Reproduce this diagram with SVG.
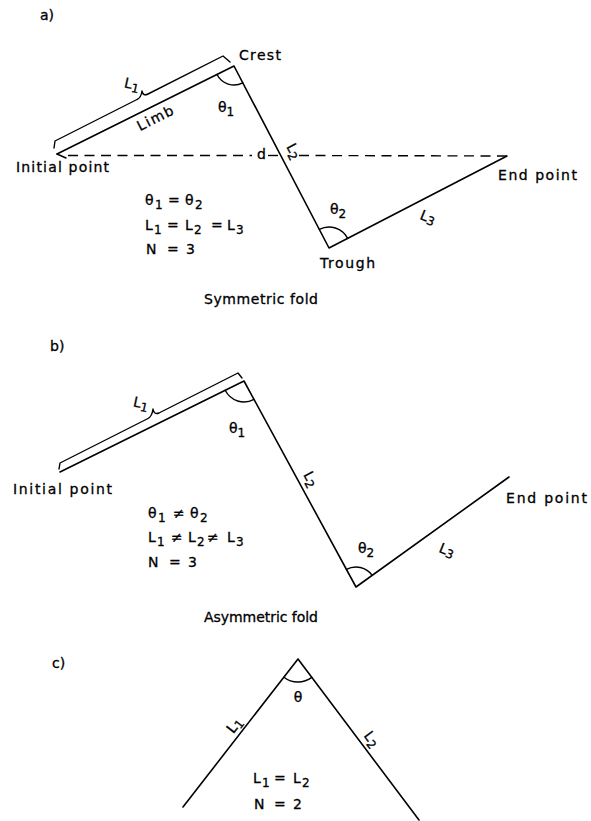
<svg xmlns="http://www.w3.org/2000/svg" width="591" height="821" viewBox="0 0 591 821">
<style>
  .ln{fill:none;stroke:#000;stroke-width:1.6;stroke-linecap:round;stroke-linejoin:round}
  .thin{fill:none;stroke:#000;stroke-width:1.4;stroke-linecap:round;stroke-linejoin:round}
  .dash{fill:none;stroke:#000;stroke-width:1.4;stroke-dasharray:10 6.5}
  text{font-family:"DejaVu Sans","Liberation Sans",sans-serif;font-size:14px;fill:#000;stroke:#000;stroke-width:0.3}
  .s{font-size:12px}
</style>
<rect width="591" height="821" fill="#fff"/>

<g id="panel-a">
  <text x="40" y="20">a)</text>
  <g id="a-lines">
    <path class="ln" d="M57,154 L234,66 L329,248 L507,156"/>
    <path class="thin" d="M57,154 L66,158"/>
    <path class="dash" d="M68,155.5 L252,155.5"/>
    <path class="dash" d="M268,155.5 L281,155.5"/>
    <path class="dash" d="M299,155.5 L507,156"/>
    <path class="thin" d="M54,148 L55,141 L137,99.5 Q141,98 142,91 Q143,96.5 148,94 L223,56 L230,62"/>
    <path class="thin" d="M217,74.5 A19,19 0 0 0 242.8,82.8"/>
    <path class="thin" d="M319.3,229.4 A21,21 0 0 1 347.7,238.4"/>
  </g>
  <text x="239" y="60" textLength="42" lengthAdjust="spacing">Crest</text>
  <text x="16" y="172" textLength="93" lengthAdjust="spacing">Initial point</text>
  <text x="498" y="180" textLength="79" lengthAdjust="spacing">End point</text>
  <text x="320" y="268" textLength="55" lengthAdjust="spacing">Trough</text>
  <text x="204" y="304" textLength="114" lengthAdjust="spacing">Symmetric fold</text>
  <text transform="translate(155,118) rotate(-27)" text-anchor="middle" y="5" textLength="39" lengthAdjust="spacing">Limb</text>
  <text x="257" y="159">d</text>
  <text transform="translate(132,84) rotate(12)" text-anchor="middle" y="5">L<tspan class="s" dy="3">1</tspan></text>
  <text transform="translate(294,151) rotate(62)" text-anchor="middle" y="5">L<tspan class="s" dy="3">2</tspan></text>
  <text transform="translate(428,217) rotate(22)" text-anchor="middle" y="5">L<tspan class="s" dy="2">3</tspan></text>
  <text x="218" y="112">θ<tspan class="s" dy="4">1</tspan></text>
  <text x="330" y="214">θ<tspan class="s" dy="4">2</tspan></text>
  <g id="a-eq">
    <text y="205"><tspan x="145">θ</tspan><tspan class="s" x="155" y="209">1</tspan><tspan x="168" y="205">=</tspan><tspan x="185">θ</tspan><tspan class="s" x="195" y="209">2</tspan></text>
    <text y="230"><tspan x="145">L</tspan><tspan class="s" x="154" y="234">1</tspan><tspan x="167" y="230">=</tspan><tspan x="185">L</tspan><tspan class="s" x="194" y="234">2</tspan><tspan x="211" y="230">=</tspan><tspan x="227">L</tspan><tspan class="s" x="236" y="234">3</tspan></text>
    <text y="254"><tspan x="146">N</tspan><tspan x="167">=</tspan><tspan x="186">3</tspan></text>
  </g>
</g>

<g id="panel-b">
  <text x="50" y="351">b)</text>
  <g id="b-lines">
    <path class="ln" d="M60,472 L244,381 L356,587 L509,477"/>
    <path class="thin" d="M59,469 L60,463 L148,418.5 Q152,416.5 153,409 Q154,415 159,413 L238,373 L242,378"/>
    <path class="thin" d="M225.2,390.3 A21,21 0 0 0 254,399.4"/>
    <path class="thin" d="M346.4,569.4 A20,20 0 0 1 372.2,575.3"/>
  </g>
  <text x="13" y="494" textLength="99" lengthAdjust="spacing">Initial point</text>
  <text x="506" y="503" textLength="81" lengthAdjust="spacing">End point</text>
  <text x="204" y="622" textLength="114" lengthAdjust="spacing">Asymmetric fold</text>
  <text transform="translate(141,403) rotate(12)" text-anchor="middle" y="5">L<tspan class="s" dy="3">1</tspan></text>
  <text transform="translate(311,479) rotate(62)" text-anchor="middle" y="5">L<tspan class="s" dy="3">2</tspan></text>
  <text transform="translate(447,550) rotate(22)" text-anchor="middle" y="5">L<tspan class="s" dy="2">3</tspan></text>
  <text x="229" y="433">θ<tspan class="s" dy="4">1</tspan></text>
  <text x="358" y="553">θ<tspan class="s" dy="4">2</tspan></text>
  <g id="b-eq">
    <text y="518"><tspan x="148">θ</tspan><tspan class="s" x="158" y="522">1</tspan><tspan x="173" y="518">≠</tspan><tspan x="190">θ</tspan><tspan class="s" x="200" y="522">2</tspan></text>
    <text y="542"><tspan x="148">L</tspan><tspan class="s" x="157" y="546">1</tspan><tspan x="171" y="542">≠</tspan><tspan x="188">L</tspan><tspan class="s" x="197" y="546">2</tspan><tspan x="207" y="542">≠</tspan><tspan x="227">L</tspan><tspan class="s" x="236" y="546">3</tspan></text>
    <text y="567"><tspan x="148">N</tspan><tspan x="169">=</tspan><tspan x="188">3</tspan></text>
  </g>
</g>

<g id="panel-c">
  <text x="52" y="668">c)</text>
  <g id="c-lines">
    <path class="ln" d="M183,807 L298,659 L419,820"/>
    <path class="thin" d="M283.9,677.2 A23,23 0 0 0 311.8,677.4"/>
  </g>
  <text x="298" y="702" text-anchor="middle">θ</text>
  <text transform="translate(234,725) rotate(-52)" text-anchor="middle" y="5">L<tspan class="s" dy="3">1</tspan></text>
  <text transform="translate(372,739) rotate(53)" text-anchor="middle" y="5">L<tspan class="s" dy="3">2</tspan></text>
  <g id="c-eq">
    <text y="783"><tspan x="253">L</tspan><tspan class="s" x="262" y="787">1</tspan><tspan x="274" y="783">=</tspan><tspan x="293">L</tspan><tspan class="s" x="302" y="787">2</tspan></text>
    <text y="809"><tspan x="254">N</tspan><tspan x="274">=</tspan><tspan x="293">2</tspan></text>
  </g>
</g>
</svg>
